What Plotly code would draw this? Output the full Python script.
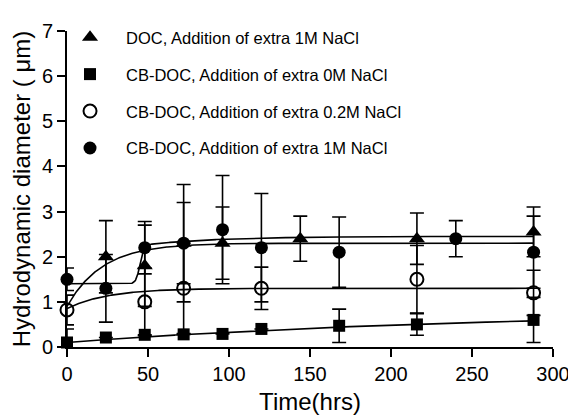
import numpy as np
import plotly.graph_objects as go

# ---- data ----
# DOC, Addition of extra 1M NaCl (filled triangles)
tri_x = [24, 48, 72, 96, 144, 216, 288]
tri_y = [2.0, 1.8, 2.3, 2.3, 2.4, 2.4, 2.55]
tri_e = [0.8, 0.9, 0.9, 0.8, 0.5, 0.57, 0.55]

# CB-DOC, Addition of extra 0M NaCl (filled squares)
sq_x = [0, 24, 48, 72, 96, 120, 168, 216, 288]
sq_y = [0.1, 0.21, 0.27, 0.28, 0.29, 0.4, 0.47, 0.5, 0.6]
sq_e = [0.3, 0.0, 0.0, 0.0, 0.0, 0.0, 0.37, 0.24, 0.5]

# CB-DOC, Addition of extra 0.2M NaCl (open circles)
oc_x = [0, 48, 72, 120, 216, 288]
oc_y = [0.82, 1.0, 1.3, 1.3, 1.5, 1.2]
oc_e = [0.33, 0.75, 1.0, 0.47, 0.75, 0.5]

# CB-DOC, Addition of extra 1M NaCl (filled circles)
fc_x = [0, 24, 48, 72, 96, 120, 168, 240, 288]
fc_y = [1.5, 1.3, 2.2, 2.3, 2.6, 2.2, 2.1, 2.4, 2.1]
fc_e = [0.25, 0.75, 0.58, 1.3, 1.2, 1.2, 0.78, 0.4, 0.8]

names = [
    "DOC, Addition of extra 1M NaCl",
    "CB-DOC, Addition of extra 0M NaCl",
    "CB-DOC, Addition of extra 0.2M NaCl",
    "CB-DOC, Addition of extra 1M NaCl",
]

# fitted-curve parameters (start, plateau, time constant)
sq_fit = [0.1, 0.8, 250.0]
oc_fit = [0.85, 1.3, 25.0]
fc_fit = [0.9, 2.3, 22.0]
# triangles: bottom, step top, final plateau, step centre, step width, rise constant
tri_fit = [1.4, 2.25, 2.45, 45.0, 1.2, 45.0]

x_ticks = [0, 50, 100, 150, 200, 250, 300]
y_ticks = [0, 1, 2, 3, 4, 5, 6, 7]

# ---- fit curves ----
t = np.linspace(0, 288, 600)

def assoc(p, x):
    return p[0] + (p[1] - p[0]) * (1 - np.exp(-x / p[2]))

def step_fit(p, x):
    s = 1 / (1 + np.exp(-(x - p[3]) / p[4]))
    rise = 1 - np.exp(-np.clip(x - p[3], 0, None) / p[5])
    return p[0] + (p[1] - p[0]) * s + (p[2] - p[1]) * s * rise

FONT = "Liberation Sans, Arial, sans-serif"
fig = go.Figure()

fits = [step_fit(tri_fit, t), assoc(sq_fit, t), assoc(oc_fit, t), assoc(fc_fit, t)]
line_style = dict(color="black", width=1.6)
for i, yy in enumerate(fits):
    fig.add_trace(go.Scatter(x=t, y=yy, mode="lines", line=line_style,
                             legendgroup=f"g{i}", showlegend=False, hoverinfo="skip"))

def err(arr):
    return dict(type="data", array=arr, visible=True, color="black",
                thickness=1.6, width=7)

series = [
    (tri_x, tri_y, tri_e, dict(symbol="triangle-up", size=14, color="black")),
    (sq_x, sq_y, sq_e, dict(symbol="square", size=12, color="black")),
    (oc_x, oc_y, oc_e, dict(symbol="circle-open", size=13, color="black",
                            line=dict(width=2, color="black"))),
    (fc_x, fc_y, fc_e, dict(symbol="circle", size=13, color="black")),
]
for i, (xx, yy, ee, mk) in enumerate(series):
    fig.add_trace(go.Scatter(x=xx, y=yy, mode="markers", marker=mk,
                             error_y=err(ee), legendgroup=f"g{i}",
                             showlegend=False, cliponaxis=False))

# legend entries
for i, ((xx, yy, ee, mk), nm) in enumerate(zip(series, names)):
    fig.add_trace(go.Scatter(x=[None], y=[None], mode="markers", marker=mk,
                             name=nm, legendgroup=f"g{i}", showlegend=True))

axis_common = dict(showline=True, linecolor="black", linewidth=2,
                   ticks="outside", ticklen=8, tickwidth=2, tickcolor="black",
                   showgrid=False, zeroline=False, automargin=False,
                   tickfont=dict(family=FONT, size=20, color="black"))

W, H = 568, 412
fig.update_layout(
    width=W, height=H,
    margin=dict(l=59, r=23, t=14, b=73),
    paper_bgcolor="white", plot_bgcolor="white",
    font=dict(family=FONT, color="black"),
    xaxis=dict(range=[0, 300], tickvals=x_ticks, **axis_common,
               title=dict(text="Time(hrs)", font=dict(family=FONT, size=24, color="black"),
                          standoff=9)),
    yaxis=dict(range=[0, 7], tickvals=y_ticks, **axis_common,
               title=dict(text="Hydrodynamic diameter ( μm)",
                          font=dict(family=FONT, size=24, color="black"), standoff=6)),
    legend=dict(x=-0.0267, y=1.035, xanchor="left", yanchor="top",
                font=dict(family=FONT, size=16.5, color="black"),
                bgcolor="rgba(0,0,0,0)", itemwidth=62,
                traceorder="grouped", tracegroupgap=12.5),
    showlegend=True,
)

fig.write_html("out.html")
